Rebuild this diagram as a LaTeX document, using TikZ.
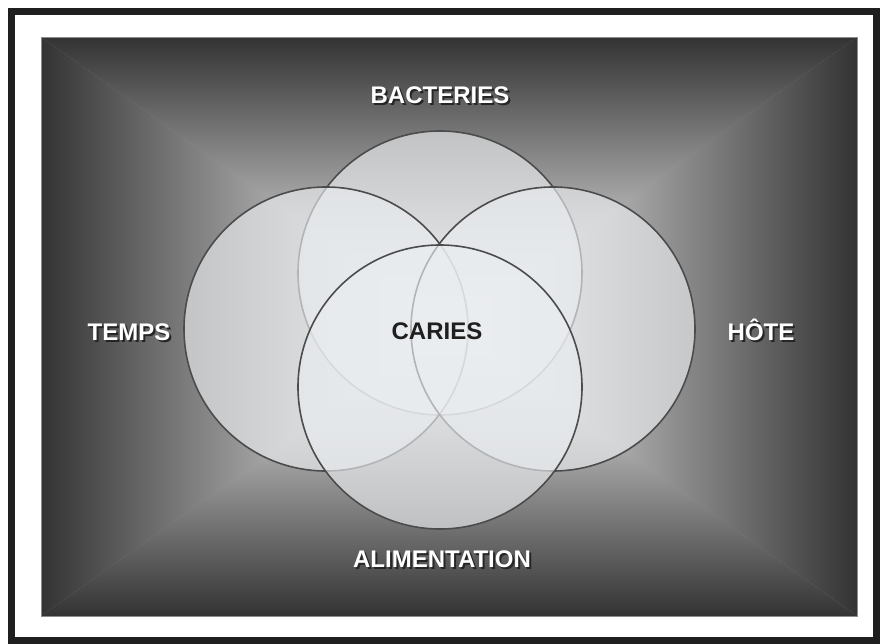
\documentclass[tikz,border=0pt]{standalone}
\usepackage{fontspec}
\setmainfont{Liberation Sans}
\tikzset{
  ring/.style={circle, minimum size=284pt, inner sep=0pt, draw=black!70, line width=1.6pt,
    fill={rgb,255:red,234;green,237;blue,240}, fill opacity=0.65},
  lbl/.style={text=white, font=\bfseries\fontsize{24}{28}\selectfont, inner sep=0pt, anchor=base},
  lblshadow/.style={lbl, text=black!85},
}
\colorlet{edgegray}{black!80}
\colorlet{midgray}{black!10}
\colorlet{centergray}{white}
\begin{document}
\begin{tikzpicture}[x=1pt,y=-1pt]
  \useasboundingbox (0,0) rectangle (884,643);
  \fill[white] (0,0) rectangle (884,643);
  % outer frame
  \draw[line width=7pt, black!88] (11.5,11.5) rectangle (876.5,640.5);

  % panel with rectangular gradient (four triangles)
  \fill[black!40] (41,37) rectangle (857,616);
  \coordinate (pc) at (449,326);
  \shade[top color=edgegray, middle color=midgray, bottom color=centergray]
    (41,37) -- (857,37) -- (pc) -- cycle;
  \shade[top color=centergray, middle color=midgray, bottom color=edgegray]
    (41,616) -- (857,616) -- (pc) -- cycle;
  \shade[left color=edgegray, middle color=midgray, right color=centergray]
    (41,37) -- (41,616) -- (pc) -- cycle;
  \shade[left color=centergray, middle color=midgray, right color=edgegray]
    (857,37) -- (857,616) -- (pc) -- cycle;
  \draw[black!45, line width=0.8pt] (41,37) rectangle (857,616);

  % the four circles
  \node[ring] (bact) at (440,273) {};
  \node[ring] (temps) at (326,329) {};
  \node[ring] (hote) at (553,329) {};
  \node[ring] (alim) at (440,387) {};

  % labels
  \node[lblshadow] (bact-s) at (442,105) {BACTERIES};
  \node[lbl] (bact-l) at (440,103) {BACTERIES};
  \node[lblshadow] (temps-s) at (131,342) {TEMPS};
  \node[lbl] (temps-l) at (129,340) {TEMPS};
  \node[lblshadow] (hote-s) at (763,342) {HÔTE};
  \node[lbl] (hote-l) at (761,340) {HÔTE};
  \node[lblshadow] (alim-s) at (444,569) {ALIMENTATION};
  \node[lbl] (alim-l) at (442,567) {ALIMENTATION};
  \node[lbl, text=black!88] (caries) at (437,339) {CARIES};
\end{tikzpicture}
\end{document}
